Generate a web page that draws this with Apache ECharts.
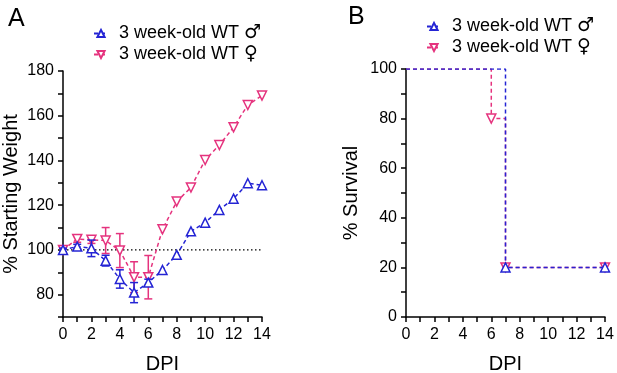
<!DOCTYPE html>
<html><head><meta charset="utf-8">
<script src="https://cdn.jsdelivr.net/npm/echarts@6/dist/echarts.min.js"></script>
<style>html,body{margin:0;padding:0;background:#fff}#c{width:617px;height:373px}</style>
</head><body><div id="c"></div>
<script>
const dpi = [0,1,2,3,4,5,6,7,8,9,10,11,12,13,14];
const maleWeight = [100,101.5,100.7,95.2,87,80.9,85.4,91,97.8,108.3,112.2,117.9,122.9,129.8,128.9];
const maleErr = [0.8,1,3.7,2.4,4.1,4.5,1.5,0,0,0,0,0,0,0,0];
const femaleWeight = [100,104.9,104.5,104.2,99.7,87.8,87.8,109.2,121.6,127.9,140.2,146.9,154.8,164.8,169];
const femaleErr = [1.5,1.5,1.6,5.8,7.6,6.9,9.7,0,0,0,0,0,0,0,0];
const refLine = [[0,100],[14,100]];
const maleSurvDays = [0,7,14];
const maleSurv = [100,20,20];
const femaleSurvDays = [0,6,7,14];
const femaleSurv = [100,80,20,20];
const nameMale = '3 week-old WT \u2642';
const nameFemale = '3 week-old WT \u2640';

const BLUE = '#2424d4';
const PINK = '#e5337e';
const FONT = 'Liberation Sans, Arial, sans-serif';

function errRender(color){
  return function(params, api){
    const x = api.value(0), y = api.value(1), e = api.value(2);
    if (!e) return {type:'group', children:[]};
    const t = api.coord([x, y+e]), b = api.coord([x, y-e]);
    const hw = 4;
    const st = {stroke: color, lineWidth: 1.5};
    return {type:'group', children:[
      {type:'line', shape:{x1:t[0],y1:t[1],x2:b[0],y2:b[1]}, style:st},
      {type:'line', shape:{x1:t[0]-hw,y1:t[1],x2:t[0]+hw,y2:t[1]}, style:st},
      {type:'line', shape:{x1:b[0]-hw,y1:b[1],x2:b[0]+hw,y2:b[1]}, style:st}
    ]};
  };
}

function xAx(gi){
  return {gridIndex: gi, type:'value', min:0, max:14, interval:1,
    axisLine:{show:true, lineStyle:{color:'#000', width:1.5}},
    axisTick:{show:true, length:5, lineStyle:{color:'#000', width:1.5}},
    axisLabel:{fontSize:16, color:'#000', fontFamily:FONT, margin:10,
      formatter: v => (v % 2 === 0 ? String(v) : '')},
    splitLine:{show:false},
    name:'DPI', nameLocation:'middle', nameGap:37,
    nameTextStyle:{fontSize:20, color:'#000', fontFamily:FONT}};
}
function yAx(gi, min, max, name, gap){
  return {gridIndex: gi, type:'value', min:min, max:max, interval:10,
    axisLine:{show:true, lineStyle:{color:'#000', width:1.5}},
    axisTick:{show:true, length:5, lineStyle:{color:'#000', width:1.5}},
    axisLabel:{fontSize:16, color:'#000', fontFamily:FONT, margin:9,
      formatter: v => (v % 20 === 0 ? String(v) : '')},
    splitLine:{show:false},
    name:name, nameLocation:'middle', nameGap:gap,
    nameTextStyle:{fontSize:20, color:'#000', fontFamily:FONT}};
}

function lineSeries(name, color, rot, xi, data, step, z){
  return {name:name, type:'line', xAxisIndex:xi, yAxisIndex:xi, data:data,
    step: step || false, z:z,
    symbol:'triangle', symbolSize:9, symbolRotate:rot,
    itemStyle:{color:'#fff', borderColor:color, borderWidth:1.5},
    lineStyle:{color:color, width:1.5, type:[4,3]},
    emphasis:{disabled:true}, animation:false};
}

const mData = dpi.map((d,i)=>[d, maleWeight[i]]);
const fData = dpi.map((d,i)=>[d, femaleWeight[i]]);
const mErr = dpi.map((d,i)=>[d, maleWeight[i], maleErr[i]]);
const fErr = dpi.map((d,i)=>[d, femaleWeight[i], femaleErr[i]]);
const mSurv = maleSurvDays.map((d,i)=> i===0 ? {value:[d, maleSurv[i]], symbol:'none'} : [d, maleSurv[i]]);
const fSurv = femaleSurvDays.map((d,i)=> i===0 ? {value:[d, femaleSurv[i]], symbol:'none'} : [d, femaleSurv[i]]);

const legendCommon = {orient:'vertical', itemWidth:14, itemHeight:9, itemGap:2,
  textStyle:{fontSize:18, color:'#000', fontFamily:FONT, padding:[0,0,0,6],
    rich:{g:{fontSize:19, fontFamily:'DejaVu Sans', color:'#000'}}},
  formatter: n => n.slice(0, -1) + '{g|' + n.slice(-1) + '}',
  selectedMode:false, data:[nameMale, nameFemale]};

const chart = echarts.init(document.getElementById('c'), null, {renderer:'canvas'});
chart.setOption({
  animation:false,
  backgroundColor:'#fff',
  title:[
    {text:'A', left:3, top:2, textStyle:{fontSize:25, fontWeight:'normal', color:'#000', fontFamily:FONT}},
    {text:'B', left:343, top:0, textStyle:{fontSize:25, fontWeight:'normal', color:'#000', fontFamily:FONT}}
  ],
  legend:[
    Object.assign({left:88, top:19}, legendCommon),
    Object.assign({left:421, top:12}, legendCommon)
  ],
  grid:[
    {left:63, top:71, width:199, height:246, outerBoundsMode:'none'},
    {left:406, top:69, width:199, height:248, outerBoundsMode:'none'}
  ],
  xAxis:[xAx(0), xAx(1)],
  yAxis:[yAx(0,70,180,'% Starting Weight',42), yAx(1,0,100,'% Survival',45)],
  series:[
    {type:'line', xAxisIndex:0, yAxisIndex:0, data:refLine, showSymbol:false, symbol:'none', z:1,
      lineStyle:{color:'#000', width:1.2, type:[1.5,2.5]}, emphasis:{disabled:true}, silent:true},
    {type:'custom', xAxisIndex:0, yAxisIndex:0, data:fErr, renderItem:errRender(PINK), z:2, silent:true},
    lineSeries(nameFemale, PINK, 180, 0, fData, false, 3),
    {type:'custom', xAxisIndex:0, yAxisIndex:0, data:mErr, renderItem:errRender(BLUE), z:4, silent:true},
    lineSeries(nameMale, BLUE, 0, 0, mData, false, 5),
    lineSeries(nameFemale, PINK, 180, 1, fSurv, 'end', 3),
    lineSeries(nameMale, BLUE, 0, 1, mSurv, 'end', 5)
  ]
});
</script></body></html>
